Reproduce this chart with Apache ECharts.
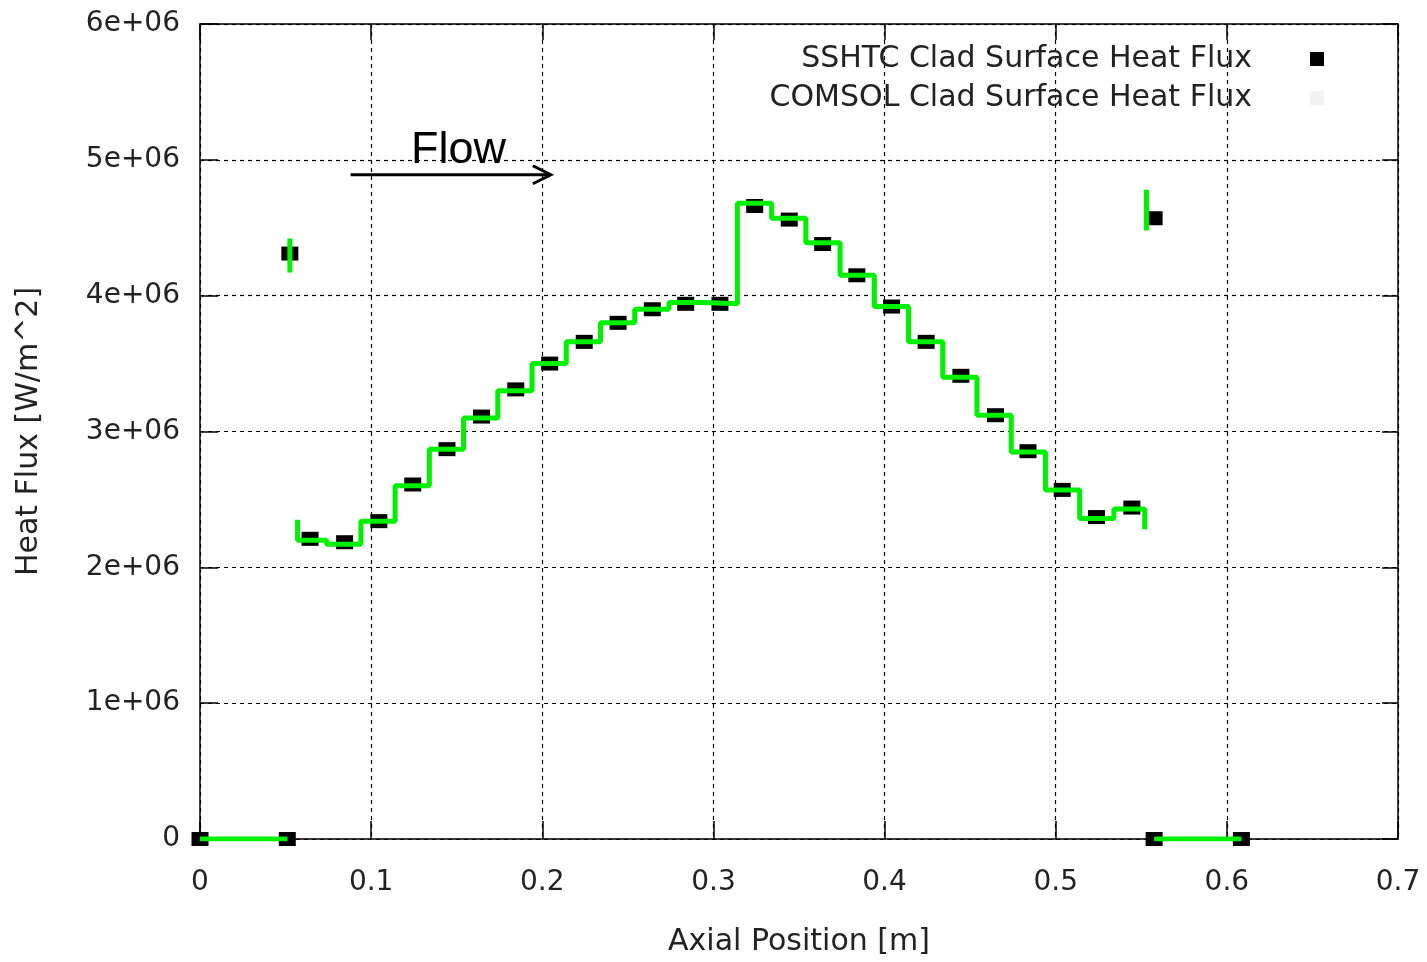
<!DOCTYPE html>
<html>
<head>
<meta charset="utf-8">
<script src="https://cdn.jsdelivr.net/npm/echarts@6/dist/echarts.min.js"></script>
<style>
html,body{margin:0;padding:0;background:#fff;}
#main{width:1427px;height:962px;}
</style>
</head>
<body>
<div id="main"></div>
<script>
// ---- data ----
const xTicks = [0, 0.1, 0.2, 0.3, 0.4, 0.5, 0.6, 0.7];
const yTicks = [0, 1e6, 2e6, 3e6, 4e6, 5e6, 6e6];
const seriesNames = ['SSHTC Clad Surface Heat Flux', 'COMSOL Clad Surface Heat Flux'];

const sshtcX = [0, 0.051, 0.0525, 0.0643, 0.0845, 0.1045, 0.1243, 0.1443, 0.1645, 0.1845, 0.2043, 0.2245, 0.2443, 0.2643, 0.2838, 0.3038,
  0.3241, 0.3443, 0.3638, 0.3838, 0.4041, 0.4243, 0.4446, 0.4648, 0.4838, 0.5038, 0.5238, 0.5445, 0.5575, 0.5575, 0.6085];
const sshtcY = [0, 0, 4.31e6, 2.21e6, 2.185e6, 2.34e6, 2.61e6, 2.87e6, 3.11e6, 3.31e6, 3.50e6, 3.66e6, 3.80e6, 3.90e6, 3.94e6, 3.94e6,
  4.66e6, 4.56e6, 4.38e6, 4.15e6, 3.92e6, 3.66e6, 3.41e6, 3.12e6, 2.855e6, 2.57e6, 2.37e6, 2.44e6, 4.57e6, 0, 0];

// COMSOL curve (null = gap)
const comsolX = [0, 0.051, 0.051,
  0.0525, 0.0525, 0.0525,
  0.057, 0.057, 0.074, 0.074, 0.094, 0.094, 0.114, 0.114, 0.134, 0.134, 0.154, 0.154, 0.174, 0.174, 0.194, 0.194,
  0.214, 0.214, 0.234, 0.234, 0.254, 0.254, 0.274, 0.274, 0.294, 0.294, 0.314, 0.314, 0.334, 0.334, 0.354, 0.354,
  0.374, 0.374, 0.394, 0.394, 0.414, 0.414, 0.434, 0.434, 0.454, 0.454, 0.474, 0.474, 0.494, 0.494, 0.514, 0.514,
  0.534, 0.534, 0.552, 0.552, 0.552,
  0.553, 0.553, 0.553,
  0.5575, 0.6085];
const comsolY = [0, 0, null,
  4.17e6, 4.42e6, null,
  2.35e6, 2.20e6, 2.20e6, 2.17e6, 2.17e6, 2.34e6, 2.34e6, 2.60e6, 2.60e6, 2.87e6, 2.87e6, 3.10e6, 3.10e6, 3.30e6, 3.30e6, 3.50e6,
  3.50e6, 3.66e6, 3.66e6, 3.80e6, 3.80e6, 3.90e6, 3.90e6, 3.95e6, 3.95e6, 3.94e6, 3.94e6, 4.68e6, 4.68e6, 4.57e6, 4.57e6, 4.39e6,
  4.39e6, 4.15e6, 4.15e6, 3.92e6, 3.92e6, 3.66e6, 3.66e6, 3.40e6, 3.40e6, 3.12e6, 3.12e6, 2.85e6, 2.85e6, 2.57e6, 2.57e6, 2.36e6,
  2.36e6, 2.43e6, 2.43e6, 2.28e6, null,
  4.48e6, 4.78e6, null,
  0, 0];

// annotation (data coordinates)
const flowLabel = 'Flow';
const flowArrowFrom = [0.088, 4.89e6];
const flowArrowTo = [0.205, 4.89e6];
const flowTextAt = [0.151, 5.07e6];

// ---- chart ----
const chart = echarts.init(document.getElementById('main'));
const sshtcData = sshtcX.map((x, i) => [x, sshtcY[i]]);
const comsolData = comsolX.map((x, i) => [x, comsolY[i] === null ? '-' : comsolY[i]]);

const FONT = 'DejaVu Sans';
const TXT = '#222';
const xMin = xTicks[0], xMax = xTicks[xTicks.length - 1], xInt = xTicks[1] - xTicks[0];
const yMin = yTicks[0], yMax = yTicks[yTicks.length - 1], yInt = yTicks[1] - yTicks[0];
const axLine = {show: true, onZero: false, lineStyle: {color: '#000', width: 1.5}};
const split = {show: true, lineStyle: {color: '#000', width: 1.2, type: [4, 4]}};
const GREEN = '#00f000';

chart.setOption({
  animation: false,
  backgroundColor: '#fff',
  grid: {left: 200, right: 29, top: 24, bottom: 114, containLabel: false},
  legend: [
    {data: [{name: seriesNames[0], icon: 'rect', itemStyle: {color: '#000', opacity: 1}}], right: 103, top: 44, padding: 0, align: 'right',
     itemWidth: 14, itemHeight: 14,
     textStyle: {fontFamily: FONT, fontSize: 30, color: TXT, lineHeight: 30, padding: [0, 53, 0, 0]}},
    {data: [{name: seriesNames[1], icon: 'rect', itemStyle: {color: '#f2f2f2'}}], right: 103, top: 83, padding: 0, align: 'right',
     itemWidth: 14, itemHeight: 14,
     textStyle: {fontFamily: FONT, fontSize: 30, color: TXT, lineHeight: 30, padding: [0, 53, 0, 0]}}
  ],
  xAxis: [
    {type: 'value', min: xMin, max: xMax, interval: xInt, position: 'bottom',
     name: 'Axial Position [m]', nameLocation: 'middle', nameGap: 88,
     nameTextStyle: {fontFamily: FONT, fontSize: 30, color: TXT},
     axisLine: axLine, axisTick: {show: true, inside: true, length: 18, lineStyle: {color: '#000', width: 1.5}},
     axisLabel: {fontFamily: FONT, fontSize: 28, color: TXT, margin: 30,
       formatter: v => v === 0 ? '0' : v.toFixed(1)},
     splitLine: split},
    {type: 'value', min: xMin, max: xMax, interval: xInt, position: 'top',
     axisLine: axLine, axisTick: {show: true, inside: true, length: 16, lineStyle: {color: '#000', width: 1.5}},
     axisLabel: {show: false}, splitLine: {show: false}}
  ],
  yAxis: [
    {type: 'value', min: yMin, max: yMax, interval: yInt, position: 'left',
     name: 'Heat Flux [W/m^2]', nameLocation: 'middle', nameGap: 156, nameRotate: 90,
     nameTextStyle: {fontFamily: FONT, fontSize: 30, color: TXT},
     axisLine: axLine, axisTick: {show: true, inside: true, length: 18, lineStyle: {color: '#000', width: 1.5}},
     axisLabel: {fontFamily: FONT, fontSize: 28, color: TXT, margin: 20,
       formatter: v => v === 0 ? '0' : Math.round(v / 1e6) + 'e+06'},
     splitLine: split},
    {type: 'value', min: yMin, max: yMax, interval: yInt, position: 'right',
     axisLine: axLine, axisTick: {show: true, inside: true, length: 16, lineStyle: {color: '#000', width: 1.5}},
     axisLabel: {show: false}, splitLine: {show: false}}
  ],
  series: [
    {name: seriesNames[0], type: 'scatter', xAxisIndex: 0, yAxisIndex: 0, data: sshtcData,
     symbol: 'rect', symbolSize: [17, 14], itemStyle: {color: '#000', opacity: 1}, z: 2},
    {name: seriesNames[1], type: 'line', xAxisIndex: 0, yAxisIndex: 0, data: comsolData,
     showSymbol: false, symbol: 'none', connectNulls: false,
     lineStyle: {color: GREEN, width: 5}, itemStyle: {color: GREEN}, z: 3}
  ]
});

// Flow arrow annotation positioned through the axes
const p0 = chart.convertToPixel({xAxisIndex: 0, yAxisIndex: 0}, flowArrowFrom);
const p1 = chart.convertToPixel({xAxisIndex: 0, yAxisIndex: 0}, flowArrowTo);
const pt = chart.convertToPixel({xAxisIndex: 0, yAxisIndex: 0}, flowTextAt);
chart.setOption({
  graphic: [
    {type: 'line', shape: {x1: p0[0], y1: p0[1], x2: p1[0], y2: p1[1]}, style: {stroke: '#000', lineWidth: 3}, z: 10},
    {type: 'polyline', shape: {points: [[p1[0] - 18, p1[1] - 9], [p1[0], p1[1]], [p1[0] - 18, p1[1] + 9]]},
     style: {stroke: '#000', lineWidth: 3, fill: null}, z: 10},
    {type: 'text', x: pt[0], y: pt[1], z: 10,
     style: {text: flowLabel, fontFamily: 'Liberation Sans', fontSize: 45, fill: '#000', align: 'center', verticalAlign: 'middle'}}
  ]
});
</script>
</body>
</html>
